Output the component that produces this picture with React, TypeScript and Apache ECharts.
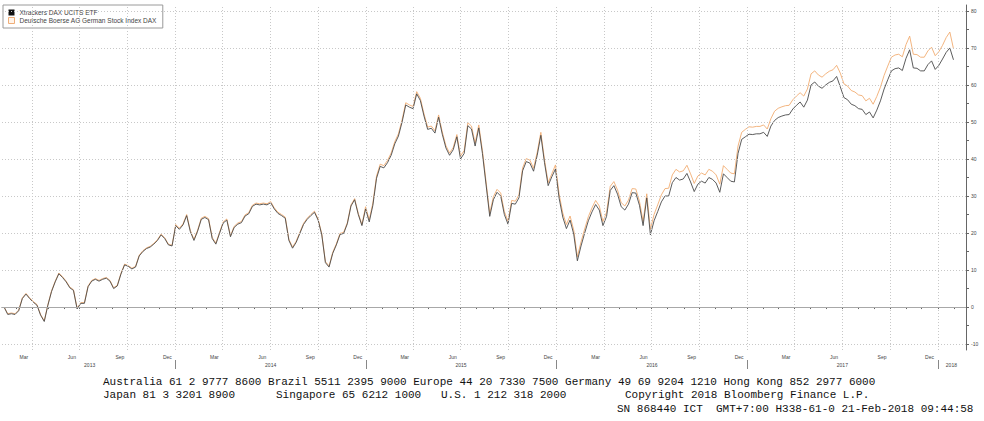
import React, { useEffect, useRef } from "react";
import * as echarts from "echarts";

const DAY = 86400000;
const WEEK = 7 * DAY;
const SERIES_START = Date.UTC(2013, 1, 6);
const X_MIN = Date.UTC(2013, 1, 2);
const X_MAX = Date.UTC(2018, 1, 24);

const ETF_NAME = "Xtrackers DAX UCITS ETF";
const DAX_NAME = "Deutsche Boerse AG German Stock Index DAX";

// weekly % change readings, Xtrackers DAX UCITS ETF
const etfValues = [
  0, -2.0, -1.8, -2.0, -1.0, 2.3, 3.5, 2.3, 1.3, 0.5, -2.2, -3.9, 0.5, 4.2, 6.8, 9.0, 8.0, 6.8, 5.2, 4.5, -0.5, 1.0, 1.0, 5.5, 7.0, 7.5, 7.0, 7.5, 7.8, 7.0, 5.0, 5.7, 8.9, 11.4, 11.0, 10.3, 10.8, 13.8, 15.0, 15.8, 16.2, 17.0, 18.0, 19.5, 18.5, 16.8, 16.5,
  22.0, 21.0, 22.2, 24.7, 20.4, 18.0, 20.5, 23.7, 24.2, 23.6, 18.5, 17.0, 19.9, 22.7, 23.5, 19.0, 21.5, 22.4, 22.8, 24.6, 25.2, 27.2, 27.8, 27.6, 27.8, 27.6, 28.2, 26.5, 25.3, 24.7, 24.0, 18.0, 15.9, 17.5, 19.9, 22.3, 23.7, 24.7, 25.6, 23.5, 19.5, 12.0, 10.8, 14.5, 16.8, 19.6, 19.9, 22.5, 27.3, 29.0, 25.0, 22.0,
  26.5, 23.0, 27.5, 34.8, 38.0, 37.6, 39.0, 41.0, 44.1, 46.2, 50.0, 54.6, 54.0, 53.6, 57.6, 55.8, 51.6, 48.0, 48.3, 47.0, 51.3, 46.7, 43.0, 41.0, 42.5, 46.0,
  40.0, 41.5, 49.0, 48.1, 43.5, 48.4, 41.5, 33.0, 24.5, 29.0, 31.0, 30.0, 25.0, 22.4, 28.0, 27.8, 29.5, 36.8, 39.3, 38.9, 36.7, 41.0, 46.4, 39.0, 32.8, 35.2,
  37.3, 29.4, 24.3, 21.2, 23.5, 19.7, 12.5, 16.5, 20.0, 23.3, 25.7, 27.7, 26.2, 22.0, 24.5, 31.5, 32.8, 30.5, 27.1, 26.2, 27.8, 30.9, 30.8, 27.5, 22.0, 29.5,
  19.5, 23.3, 25.8, 28.4, 30.0, 30.0, 33.6, 35.0, 34.3, 34.6, 36.1, 33.8, 31.2, 33.2, 34.0, 33.5, 35.0, 34.5, 33.5, 31.0, 36.0, 35.0, 34.0, 33.8, 41.5, 45.3,
  46.0, 46.7, 46.6, 46.8, 46.8, 47.2, 46.1, 48.9, 50.4, 51.2, 51.6, 51.9, 52.0, 53.5, 54.5, 55.4, 54.0, 55.9, 60.0, 60.8, 59.7, 59.1, 60.0, 60.7, 61.1, 62.3,
  59.5, 56.6, 56.0, 54.8, 54.4, 53.6, 53.4, 52.0, 52.7, 51.1, 53.2, 55.7, 58.9, 61.4, 63.8, 64.4, 64.6, 63.9, 67.2, 69.5, 64.6, 64.5, 63.8, 63.8, 65.5, 66.5, 64.2, 65.3, 67.0, 68.8, 70.0, 66.8,
];

// weekly % change readings, DAX index
const daxValues = [
  0, -1.8, -1.6, -1.8, -0.8, 2.5, 3.7, 2.5, 1.5, 0.7, -2.0, -3.7, 0.7, 4.4, 7.0, 9.2, 8.2, 7.0, 5.4, 4.7, -0.3, 1.2, 1.2, 5.7, 7.2, 7.7, 7.2, 7.7, 8.0, 7.2, 5.2, 5.9, 9.1, 11.6, 11.2, 10.5, 11.0, 14.0, 15.2, 16.0, 16.4, 17.2, 18.2, 19.7, 18.7, 17.0, 16.7,
  22.3, 21.3, 22.5, 25.0, 20.7, 18.3, 20.8, 24.0, 24.5, 23.9, 18.8, 17.3, 20.2, 23.0, 23.8, 19.3, 21.8, 22.7, 23.1, 24.9, 25.5, 27.5, 28.1, 27.9, 28.1, 27.9, 28.5, 26.8, 25.6, 25.0, 24.3, 18.3, 16.2, 17.8, 20.2, 22.6, 24.0, 25.0, 25.9, 23.8, 19.8, 12.3, 11.1, 14.8, 17.1, 19.9, 20.2, 22.8, 27.6, 29.3, 25.3, 22.3,
  27.1, 23.6, 28.1, 35.4, 38.6, 38.2, 39.6, 41.6, 44.7, 46.8, 50.6, 55.2, 54.6, 54.2, 58.2, 56.4, 52.2, 48.6, 48.9, 47.6, 51.9, 47.3, 43.6, 41.6, 43.1, 46.6,
  40.8, 42.3, 49.8, 48.9, 44.3, 49.2, 42.3, 33.8, 25.3, 29.8, 31.8, 30.8, 25.8, 23.2, 28.8, 28.6, 30.3, 37.6, 40.1, 39.7, 37.5, 41.8, 47.2, 39.8, 33.6, 36.0,
  38.4, 30.5, 25.4, 22.3, 24.6, 20.8, 13.6, 17.6, 21.1, 24.4, 26.8, 28.8, 27.3, 23.1, 25.6, 32.6, 33.9, 31.6, 28.2, 27.3, 28.9, 32.0, 31.9, 28.6, 23.1, 30.6,
  21.0, 25.0, 27.6, 30.3, 32.0, 32.1, 35.7, 37.2, 36.5, 36.8, 38.3, 36.0, 33.4, 35.4, 36.2, 35.7, 37.2, 36.7, 35.7, 33.2, 38.2, 37.2, 36.2, 36.0, 43.5, 47.2,
  48.0, 48.7, 48.6, 48.8, 48.8, 49.2, 48.1, 50.9, 52.9, 53.7, 54.1, 54.4, 54.5, 56.0, 57.0, 57.9, 57.0, 58.9, 63.0, 63.8, 62.7, 62.1, 63.0, 63.7, 64.1, 65.3,
  63.2, 60.3, 59.7, 58.5, 58.1, 57.3, 57.1, 55.7, 56.4, 54.8, 56.9, 59.4, 62.6, 65.1, 67.5, 68.1, 68.3, 67.6, 70.9, 73.2, 68.3, 68.2, 67.5, 67.5, 69.2, 70.2, 67.9, 69.0, 70.7, 72.8, 74.3, 69.8,
];

const MONTH_NAMES = ["Jan", "Feb", "Mar", "Apr", "May", "Jun", "Jul", "Aug", "Sep", "Oct", "Nov", "Dec"];
const LABEL_YEARS = [2013, 2014, 2015, 2016, 2017];
const LABEL_MONTHS = [2, 5, 8, 11];
const YEAR_LABELS: [number, number, number][] = [
  [2013, 6, 20],
  [2014, 6, 2],
  [2015, 6, 2],
  [2016, 6, 2],
  [2017, 6, 2],
  [2018, 0, 27],
];
const YEAR_BREAKS = [2014, 2015, 2016, 2017, 2018];
const Y_LABELS = [-10, 0, 10, 20, 30, 40, 50, 60, 70, 80];
const Y_TICKS = [-10, -5, 0, 5, 10, 15, 20, 25, 30, 35, 40, 45, 50, 55, 60, 65, 70, 75, 80];
const Y_GRID = [-10, 10, 20, 30, 40, 50, 60, 70, 80];

const FOOTER = [
  { x: 103, y: 382, text: "Australia 61 2 9777 8600 Brazil 5511 2395 9000 Europe 44 20 7330 7500 Germany 49 69 9204 1210 Hong Kong 852 2977 6000" },
  { x: 103, y: 395, text: "Japan 81 3 3201 8900" },
  { x: 276, y: 395, text: "Singapore 65 6212 1000" },
  { x: 441, y: 395, text: "U.S. 1 212 318 2000" },
  { x: 625, y: 395, text: "Copyright 2018 Bloomberg Finance L.P." },
  { x: 617, y: 409, text: "SN 868440 ICT  GMT+7:00 H338-61-0 21-Feb-2018 09:44:58" },
];

function buildMonthStarts(): number[] {
  const out: number[] = [];
  for (let y = 2013; y <= 2018; y++) {
    for (let m = 0; m < 12; m++) {
      const t = Date.UTC(y, m, 1);
      if (t > X_MIN && t < X_MAX) out.push(t);
    }
  }
  return out;
}

function buildQuarterStarts(): number[] {
  return buildMonthStarts().filter((t) => new Date(t).getUTCMonth() % 3 === 0);
}

export default function App() {
  const ref = useRef<HTMLDivElement>(null);

  useEffect(() => {
    document.body.style.margin = "0";
    if (!ref.current) return;
    const chart = echarts.init(ref.current, undefined, { renderer: "svg" });

    const etfData = etfValues.map((v, i) => [SERIES_START + i * WEEK, v]);
    const daxData = daxValues.map((v, i) => [SERIES_START + i * WEEK, v]);

    const monthLabelVals: number[] = [];
    LABEL_YEARS.forEach((y) => LABEL_MONTHS.forEach((m) => monthLabelVals.push(Date.UTC(y, m, 16))));
    const yearLabelVals = YEAR_LABELS.map(([y, m, d]) => Date.UTC(y, m, d));
    const yearBreakVals = YEAR_BREAKS.map((y) => Date.UTC(y, 0, 1));
    const monthStarts = buildMonthStarts();
    const quarterStarts = buildQuarterStarts();

    const gridStyle = { type: [1, 2] as any, color: "#c8c8c8", width: 1 };

    const markLineData: any[] = [
      ...Y_GRID.map((v) => ({ yAxis: v, lineStyle: gridStyle })),
      ...quarterStarts.map((t) => ({ xAxis: t, lineStyle: gridStyle })),
      { yAxis: 0, lineStyle: { type: "solid", color: "#a8a8a8", width: 1 } },
    ];

    chart.setOption({
      animation: false,
      textStyle: { fontFamily: "Liberation Sans, Arial, sans-serif" },
      grid: { left: 2, right: 18, top: 5, bottom: 71, containLabel: false },
      legend: {
        left: 3,
        top: 5,
        orient: "vertical",
        icon: "rect",
        itemWidth: 6,
        itemHeight: 6,
        itemGap: 1,
        padding: [4, 6, 4, 5],
        borderColor: "#9a9a9a",
        borderWidth: 1,
        backgroundColor: "#ffffff",
        textStyle: { fontSize: 6.5, color: "#444" },
        data: [
          { name: ETF_NAME, itemStyle: { color: "#111111" } },
          { name: DAX_NAME, itemStyle: { color: "#fff4ea", borderColor: "#efae78", borderWidth: 1 } },
        ],
      },
      xAxis: [
        {
          type: "value",
          min: X_MIN,
          max: X_MAX,
          position: "bottom",
          axisLine: { show: true, lineStyle: { color: "#666", width: 1 } },
          axisTick: { show: true, customValues: monthStarts, length: 2, lineStyle: { color: "#666" } },
          axisLabel: {
            customValues: monthLabelVals,
            formatter: (v: number) => MONTH_NAMES[new Date(v).getUTCMonth()],
            fontSize: 5,
            color: "#444",
            margin: 4,
          },
          splitLine: { show: false },
        },
        {
          type: "value",
          min: X_MIN,
          max: X_MAX,
          position: "bottom",
          offset: 10,
          axisLine: { show: false },
          axisTick: { show: true, customValues: yearBreakVals, length: 9, lineStyle: { color: "#888" } },
          axisLabel: {
            customValues: yearLabelVals,
            formatter: (v: number) => String(new Date(v).getUTCFullYear()),
            fontSize: 5,
            color: "#444",
            margin: 2,
          },
          splitLine: { show: false },
        },
      ],
      yAxis: {
        type: "value",
        position: "right",
        min: -11.6,
        max: 81.6,
        axisLine: { show: true, lineStyle: { color: "#666", width: 1 } },
        axisTick: { show: true, customValues: Y_TICKS, length: 3, lineStyle: { color: "#666" } },
        axisLabel: { customValues: Y_LABELS, fontSize: 5, color: "#444", margin: 5 },
        splitLine: { show: false },
      },
      series: [
        {
          name: DAX_NAME,
          type: "line",
          xAxisIndex: 0,
          data: daxData,
          symbol: "none",
          lineStyle: { color: "#f2ad72", width: 0.9 },
          itemStyle: { color: "#f2ad72" },
          markLine: {
            silent: true,
            symbol: ["none", "none"],
            label: { show: false },
            data: markLineData,
          },
        },
        {
          name: ETF_NAME,
          type: "line",
          xAxisIndex: 0,
          data: etfData,
          symbol: "none",
          lineStyle: { color: "#4a4a4a", width: 0.9 },
          itemStyle: { color: "#222" },
        },
      ],
      graphic: FOOTER.map((f) => ({
        type: "text",
        x: f.x,
        y: f.y,
        silent: true,
        style: {
          text: f.text,
          fontFamily: "Liberation Mono, DejaVu Sans Mono, monospace",
          fontSize: 11,
          fill: "#111",
          verticalAlign: "middle",
        },
      })),
    });

    return () => chart.dispose();
  }, []);

  return <div ref={ref} style={{ width: 984, height: 421 }} />;
}
